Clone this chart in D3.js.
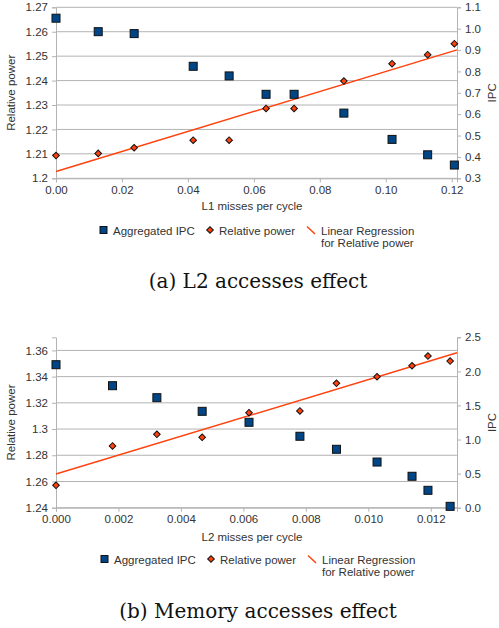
<!DOCTYPE html>
<html><head><meta charset="utf-8">
<script src="https://cdn.jsdelivr.net/npm/d3@7"></script>
<style>body{margin:0;background:#fff}svg{display:block}</style>
</head><body>
<script>
// ---- Data: chart (a) L2 accesses effect ----
const aMisses = [0.0, 0.0128, 0.0237, 0.0416, 0.0525, 0.0637, 0.0722, 0.0873, 0.1019, 0.1127, 0.1208];
const aIPC    = [1.049, 0.986, 0.977, 0.824, 0.779, 0.693, 0.693, 0.605, 0.482, 0.410, 0.362];
const aPower  = [1.2093, 1.2102, 1.2125, 1.2156, 1.2156, 1.2286, 1.2286, 1.2398, 1.2469, 1.2506, 1.2551];
const aXTicks = [0, 0.02, 0.04, 0.06, 0.08, 0.10, 0.12];
const aLTicks = [1.2, 1.21, 1.22, 1.23, 1.24, 1.25, 1.26, 1.27];
const aRTicks = [0.3, 0.4, 0.5, 0.6, 0.7, 0.8, 0.9, 1.0, 1.1];

// ---- Data: chart (b) Memory accesses effect ----
const bMisses = [0.0, 0.00181, 0.00323, 0.00468, 0.00618, 0.00781, 0.00898, 0.01028, 0.0114, 0.01191, 0.01262];
const bIPC    = [2.098, 1.790, 1.614, 1.414, 1.253, 1.048, 0.857, 0.670, 0.461, 0.255, 0.02];
const bPower  = [1.2571, 1.2871, 1.2960, 1.2937, 1.3125, 1.3138, 1.3349, 1.3399, 1.3483, 1.3557, 1.3519];
const bXTicks = [0, 0.002, 0.004, 0.006, 0.008, 0.010, 0.012];
const bLTicks = [1.24, 1.26, 1.28, 1.30, 1.32, 1.34, 1.36];
const bRTicks = [0.0, 0.5, 1.0, 1.5, 2.0, 2.5];

const legendLabels = ["Aggregated IPC", "Relative power", "Linear Regression", "for Relative power"];

const W = 499, H = 628;
const svg = d3.select("body").append("svg").attr("width", W).attr("height", H);

const GRID = "#b3b3b3", TXT = "#333333", BLUE = "#004586", RED = "#ff420e";
const SANS = "'Liberation Sans', Arial";
const CAPFONT = "'DejaVu Serif'";

function chart(cfg) {
  const g = svg.append("g");
  const x = d3.scaleLinear().domain(cfg.xDomain).range([cfg.x0, cfg.x1]);
  const yl = d3.scaleLinear().domain(cfg.lDomain).range([cfg.y1, cfg.y0]);
  const yr = d3.scaleLinear().domain(cfg.rDomain).range([cfg.y1, cfg.y0]);

  g.append("g").selectAll("line").data(cfg.lTicks).join("line")
    .attr("x1", cfg.x0).attr("x2", cfg.x1)
    .attr("y1", d => yl(d)).attr("y2", d => yl(d))
    .attr("stroke", GRID).attr("stroke-width", 1);

  const la = d3.axisLeft(yl).tickValues(cfg.lTicks).tickSize(4).tickPadding(4).tickFormat(cfg.lFmt);
  const lg = g.append("g").attr("transform", `translate(${cfg.x0},0)`).call(la);
  const ra = d3.axisRight(yr).tickValues(cfg.rTicks).tickSize(4).tickPadding(4).tickFormat(d3.format(".1f"));
  const rg = g.append("g").attr("transform", `translate(${cfg.x1},0)`).call(ra);
  const ba = d3.axisBottom(x).tickValues(cfg.xTicks).tickSize(4).tickPadding(3.5).tickFormat(cfg.xFmt);
  const bg = g.append("g").attr("transform", `translate(0,${cfg.y1})`).call(ba);

  [lg, rg, bg].forEach(a => {
    a.attr("font-family", null);
    a.selectAll("path").attr("stroke", GRID).attr("stroke-width", 1);
    a.selectAll("line").attr("stroke", GRID);
    a.selectAll("text").attr("fill", TXT).style("font-family", SANS).style("font-size", "11.5px");
  });

  const n = cfg.xs.length;
  const mx = d3.mean(cfg.xs), my = d3.mean(cfg.ps);
  let sxy = 0, sxx = 0;
  for (let i = 0; i < n; i++) { sxy += (cfg.xs[i]-mx)*(cfg.ps[i]-my); sxx += (cfg.xs[i]-mx)**2; }
  const slope = sxy / sxx, icpt = my - slope * mx;
  const xd = x.domain();
  g.append("line")
    .attr("x1", x(xd[0])).attr("y1", yl(icpt + slope*xd[0]))
    .attr("x2", x(xd[1])).attr("y2", yl(icpt + slope*xd[1]))
    .attr("stroke", RED).attr("stroke-width", 1.5);

  const idx = d3.range(n);
  g.append("g").selectAll("rect").data(idx).join("rect")
    .attr("x", i => x(cfg.xs[i]) - 4).attr("y", i => yr(cfg.ipc[i]) - 4)
    .attr("width", 8).attr("height", 8)
    .attr("fill", BLUE).attr("stroke", "#111").attr("stroke-width", 1);
  const dsym = d3.symbol().type(d3.symbolSquare).size(22);
  g.append("g").selectAll("path").data(idx).join("path")
    .attr("d", dsym)
    .attr("transform", i => `translate(${x(cfg.xs[i])},${yl(cfg.ps[i])}) rotate(45)`)
    .attr("fill", RED).attr("stroke", "#111").attr("stroke-width", 1);

  g.append("text").attr("transform", `translate(15,${(cfg.y0+cfg.y1)/2}) rotate(-90)`)
    .attr("text-anchor", "middle").attr("fill", TXT)
    .style("font-family", SANS).style("font-size", "11.5px").text("Relative power");
  g.append("text").attr("transform", `translate(496,${(cfg.y0+cfg.y1)/2}) rotate(-90)`)
    .attr("text-anchor", "middle").attr("fill", TXT)
    .style("font-family", SANS).style("font-size", "11.5px").text("IPC");
  g.append("text").attr("x", 252).attr("y", cfg.xTitleY)
    .attr("text-anchor", "middle").attr("fill", TXT)
    .style("font-family", SANS).style("font-size", "11.5px").text(cfg.xTitle);

  const ly = cfg.legY;
  g.append("rect").attr("x", cfg.legX - 4).attr("y", ly - 8.5).attr("width", 7).attr("height", 7)
    .attr("fill", BLUE).attr("stroke", "#111").attr("stroke-width", 1);
  g.append("text").attr("x", cfg.legX + 9).attr("y", ly).attr("fill", TXT)
    .style("font-family", SANS).style("font-size", "11.5px").text(legendLabels[0]);
  g.append("path").attr("d", dsym)
    .attr("transform", `translate(${cfg.legX + 106},${ly - 5}) rotate(45)`)
    .attr("fill", RED).attr("stroke", "#111").attr("stroke-width", 1);
  g.append("text").attr("x", cfg.legX + 115).attr("y", ly).attr("fill", TXT)
    .style("font-family", SANS).style("font-size", "11.5px").text(legendLabels[1]);
  g.append("line").attr("x1", cfg.legX + 203).attr("y1", ly - 8.5).attr("x2", cfg.legX + 211).attr("y2", ly - 1)
    .attr("stroke", RED).attr("stroke-width", 1.5);
  g.append("text").attr("x", cfg.legX + 217).attr("y", ly).attr("fill", TXT)
    .style("font-family", SANS).style("font-size", "11.5px").text(legendLabels[2]);
  g.append("text").attr("x", cfg.legX + 217).attr("y", ly + 12).attr("fill", TXT)
    .style("font-family", SANS).style("font-size", "11.5px").text(legendLabels[3]);

  g.append("text").attr("x", cfg.capX).attr("y", cfg.capY)
    .attr("text-anchor", "middle").attr("fill", "#111")
    .style("font-family", CAPFONT).style("font-size", "20px").text(cfg.caption);
}

chart({
  x0: 56, x1: 457, y0: 7.3, y1: 178.3,
  xDomain: [0, 0.1216], lDomain: [1.2, 1.27], rDomain: [0.3, 1.1],
  xs: aMisses, ipc: aIPC, ps: aPower,
  xTicks: aXTicks, lTicks: aLTicks, rTicks: aRTicks,
  xFmt: d3.format(".2f"), lFmt: d => String(+d.toFixed(2)),
  xTitle: "L1 misses per cycle", xTitleY: 210,
  legX: 104, legY: 235,
  caption: "(a) L2 accesses effect", capX: 258, capY: 288
});
chart({
  x0: 56, x1: 457, y0: 337.3, y1: 507.7,
  xDomain: [0, 0.01284], lDomain: [1.24, 1.37], rDomain: [0, 2.5],
  xs: bMisses, ipc: bIPC, ps: bPower,
  xTicks: bXTicks, lTicks: bLTicks, rTicks: bRTicks,
  xFmt: d3.format(".3f"), lFmt: d => String(+d.toFixed(2)),
  xTitle: "L2 misses per cycle", xTitleY: 541,
  legX: 105, legY: 564,
  caption: "(b) Memory accesses effect", capX: 258, capY: 618
});
</script>
</body></html>
